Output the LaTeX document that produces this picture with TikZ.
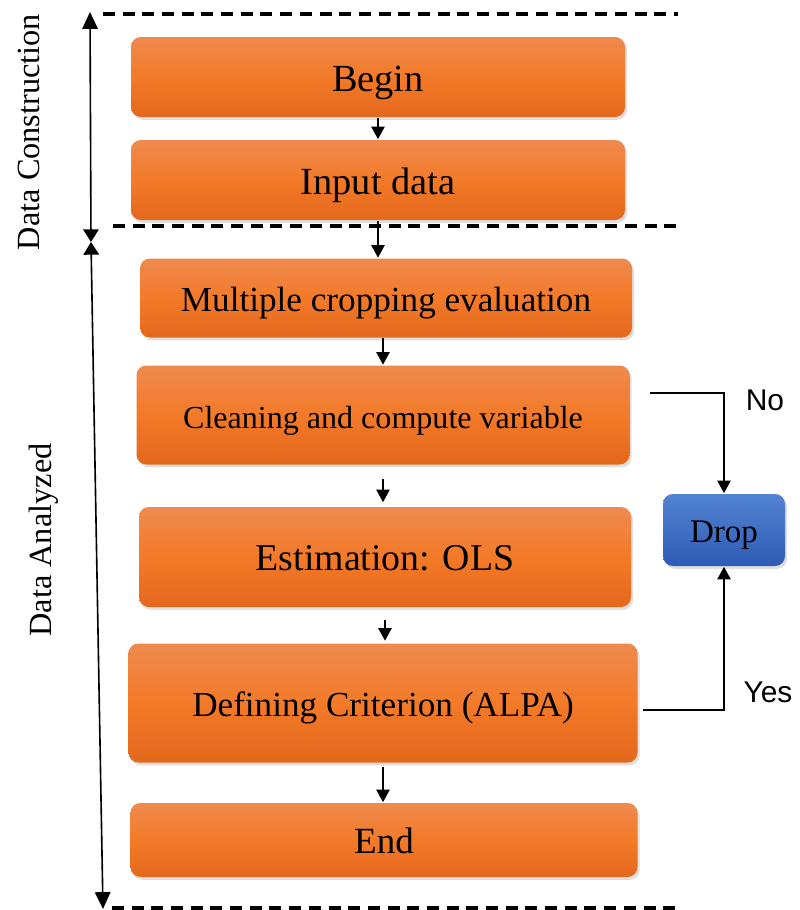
\documentclass[tikz,border=0pt]{standalone}
\usepackage{fontspec}
\setmainfont{Liberation Serif}
\newfontfamily\arialfont{Liberation Sans}
\usetikzlibrary{shapes}
\usetikzlibrary{arrows.meta}
\usetikzlibrary{shadows}
\definecolor{orange_top}{HTML}{EF8A4F}
\definecolor{orange_mid}{HTML}{F37A28}
\definecolor{orange_bot}{HTML}{E4681D}
\definecolor{blue_top}{HTML}{5383D3}
\definecolor{blue_bot}{HTML}{2E5BB4}
\tikzset{
	flownode/.style = {
		inner sep=0pt,
		text centered,
		text height=19pt,
		text depth=0pt,
		rounded corners=7pt,
		drop shadow={opacity=0.25, shadow xshift=1.5pt, shadow yshift=-2pt},
		font=\fontsize{25}{30}\selectfont
	},
	node_o/.style 2 args = {
		flownode,
		top color=orange_top,
		bottom color=orange_bot,
		middle color=orange_mid,
		minimum width=#1*0.025cm,
		minimum height=#2*0.025cm
	},
	node_b/.style 2 args = {
		flownode,
		top color=blue_top,
		bottom color=blue_bot,
		minimum width=#1*0.025cm,
		minimum height=#2*0.025cm,
		text height=18pt,
		font=\fontsize{23.5}{28}\selectfont
	},
	side_lbl/.style = {
		inner sep=0pt,
		font=\arialfont\fontsize{21.3}{25}\selectfont
	},
	axis_lbl/.style = {
		inner sep=0pt,
		rotate=90,
		font=\fontsize{23}{27}\selectfont
	},
	sep_line/.style = {
		line width=2.3pt,
		dash pattern=on 8.5pt off 5.5pt
	},
}

\begin{document}
\begin{tikzpicture}[x=0.025cm, y=-0.025cm, line width=1.15pt,
	>={Triangle[length=9pt,width=9.5pt]}]
\useasboundingbox (0,0) rectangle (800,910);
% flow boxes
\node [node_o={494}{80}, font=\fontsize{27.3}{32}\selectfont, text height=20pt] (begin) at (378,77) {Begin};
\node [node_o={494}{80}, font=\fontsize{27.3}{32}\selectfont, text height=20pt] (input) at (378,180) {Input data};
\node [node_o={492}{79}] (multi) at (386,298) {Multiple cropping evaluation};
\node [node_o={493}{99}, font=\fontsize{22.8}{27}\selectfont] (clean) at (383,415) {Cleaning and compute variable};
\node [node_o={492}{100}, font=\fontsize{26.9}{32}\selectfont] (est) at (385,557) {Estimation: OLS};
\node [node_o={509}{119}] (crit) at (383,703) {Defining Criterion (ALPA)};
\node [node_o={507}{74}, font=\fontsize{26.3}{31}\selectfont] (end) at (384,840) {End};
\node [node_b={122}{72}] (drop) at (724,530) {Drop};

% labels
\node [side_lbl] (no_lbl) at (765,400) {No};
\node [side_lbl] (yes_lbl) at (768,692) {Yes};
\node [axis_lbl] (dc_lbl) at (29,132) {Data Construction};
\node [axis_lbl] (da_lbl) at (44,540) {Data Analyzed};

% flow arrows
\draw [->] (begin) -- (input);
\draw [->] (input.south) -- (input.south |- multi.north);
\draw [->] (multi.south -| clean) -- (clean.north);
\draw [->, shorten <=0.35cm, shorten >=0.1cm] (clean.south) -- (clean.south |- est.north);
\draw [->, shorten <=0.3cm, shorten >=0.05cm] (est.south) -- (est.south |- crit.north);
\draw [->, shorten <=0.1cm] (crit.south) -- (crit.south |- end.north);

% decision to drop
\coordinate (no_from) at (650,393);
\coordinate (yes_from) at (643,710);
\draw [->] (no_from) -| (drop.north);
\draw [->] (yes_from) -| (drop.south);

% stage separators
\coordinate (top_l) at (103,14);
\coordinate (top_r) at (678,14);
\coordinate (mid_l) at (113,226);
\coordinate (mid_r) at (678,226);
\coordinate (bot_l) at (112,908);
\coordinate (bot_r) at (680,908);
\draw [sep_line] (top_l) -- (top_r);
\draw [sep_line] (mid_l) -- (mid_r);
\draw [sep_line] (bot_l) -- (bot_r);

% stage axis
\coordinate (axis_top) at (90,12);
\coordinate (axis_mid) at (91,242);
\coordinate (axis_bot) at (103,909);
\draw [{Triangle[length=12pt,width=11pt]}-{Triangle[length=9pt,width=11pt]}] (axis_top) -- (axis_mid);
\draw [{Triangle[length=9pt,width=11pt]}-{Triangle[length=12pt,width=11pt]}] (axis_mid) -- (axis_bot);
\end{tikzpicture}
\end{document}
